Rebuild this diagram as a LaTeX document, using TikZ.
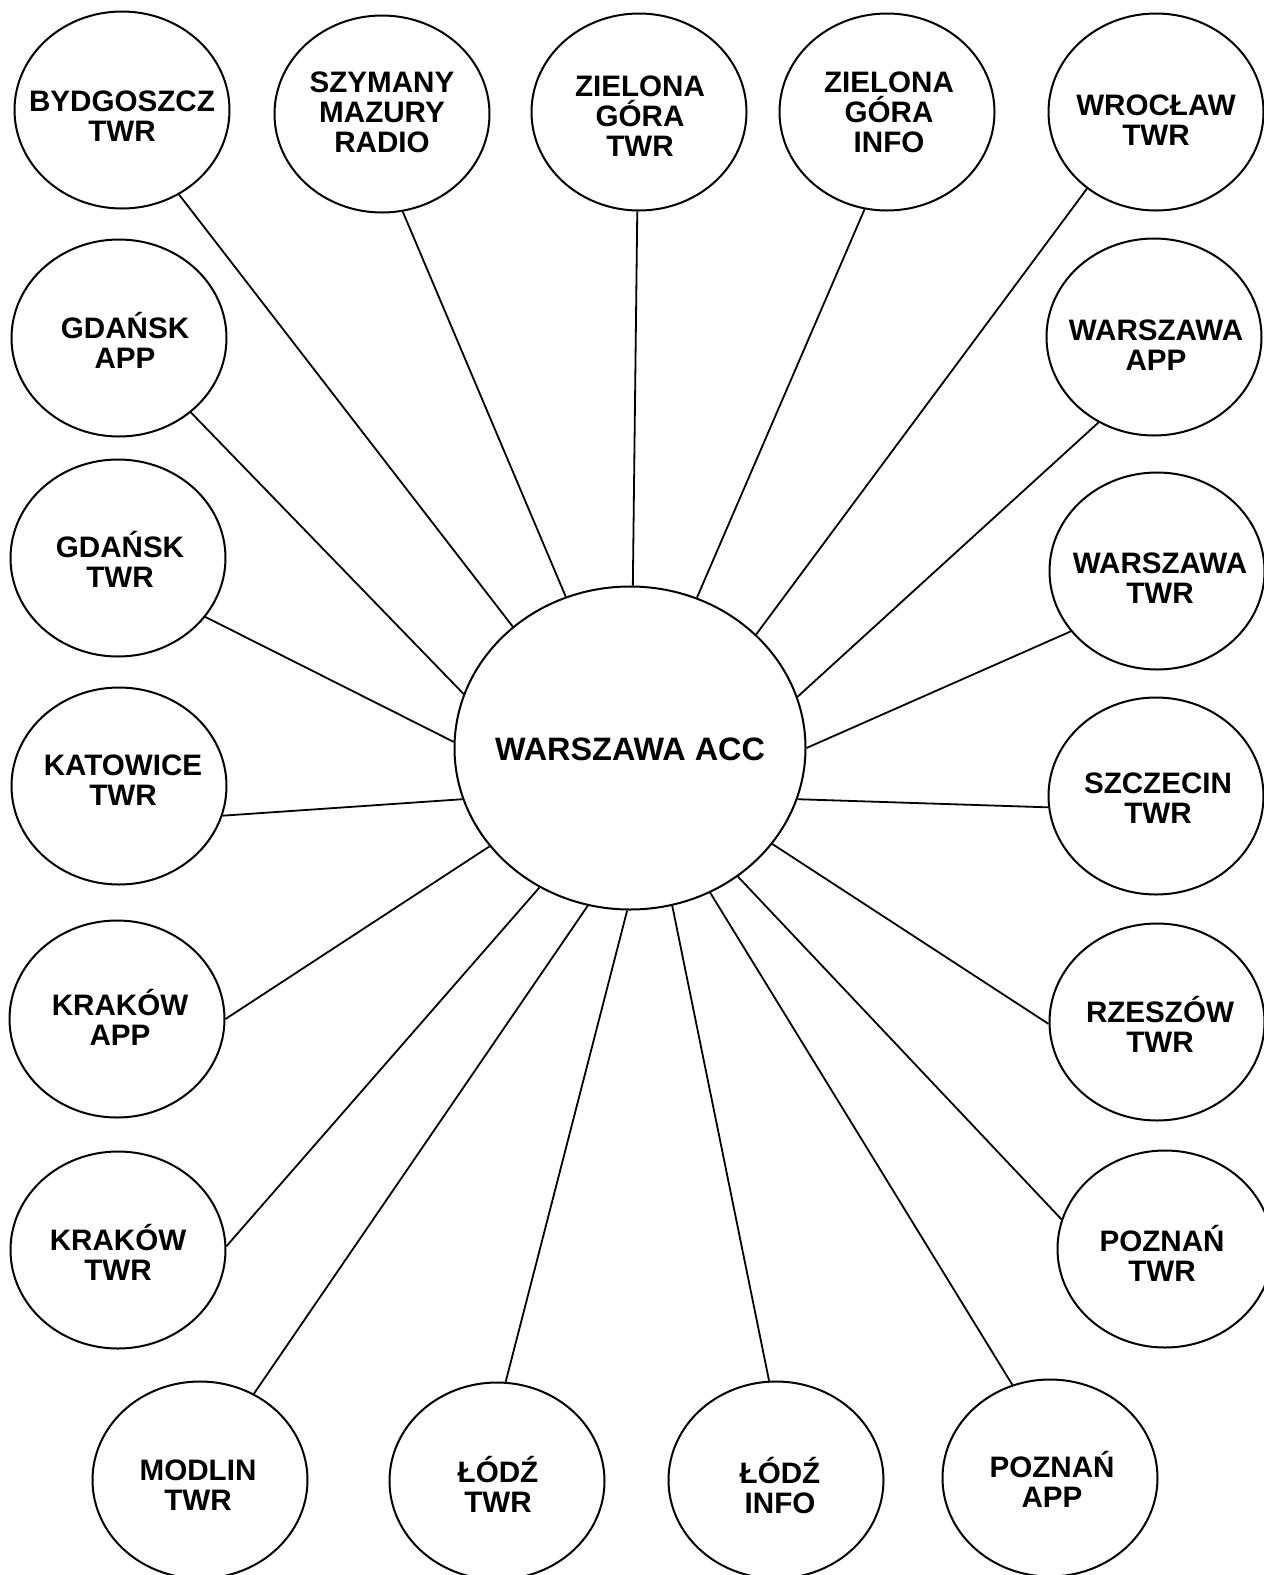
\documentclass[tikz,border=0pt]{standalone}
\usepackage{fontspec}
\setmainfont{Liberation Sans}
\usetikzlibrary{shapes.geometric}

\begin{document}
\begin{tikzpicture}[x=0.5pt, y=-0.5pt,
		stn/.style={draw, ellipse, line width=1pt, inner sep=0pt, minimum width=107.5pt, minimum height=98.5pt},
		hub/.style={draw, ellipse, line width=1pt, inner sep=0pt, minimum width=175.5pt, minimum height=161.5pt},
		lbl/.style={align=center, inner sep=0pt, font=\fontsize{14.8}{15}\selectfont\bfseries},
		hublbl/.style={inner sep=0pt, font=\fontsize{16.2}{16}\selectfont\bfseries},
		link/.style={line width=0.9pt}]
		\useasboundingbox (0,0) rectangle (1264,1575);
		\clip (0,0) rectangle (1264,1575);

		% centre
		\node[hub] (acc) at (630,748) {};
		\node[hublbl] (acc-t) at (630,749) {WARSZAWA ACC};

		% top row
		\node[stn] (bydg) at (122,110) {};
		\node[lbl] (bydg-t) at (122,116) {BYDGOSZCZ\\TWR};
		\node[stn] (szym) at (382,114) {};
		\node[lbl] (szym-t) at (382,112) {SZYMANY\\MAZURY\\RADIO};
		\node[stn] (zgtwr) at (639,112) {};
		\node[lbl] (zgtwr-t) at (640,116) {ZIELONA\\GÓRA\\TWR};
		\node[stn] (zginfo) at (887,112) {};
		\node[lbl] (zginfo-t) at (889,112) {ZIELONA\\GÓRA\\INFO};
		\node[stn] (wroc) at (1156,112) {};
		\node[lbl] (wroc-t) at (1156,120) {WROCŁAW\\TWR};

		% right column
		\node[stn] (wawapp) at (1154,337) {};
		\node[lbl] (wawapp-t) at (1156,345) {WARSZAWA\\APP};
		\node[stn] (wawtwr) at (1157,571) {};
		\node[lbl] (wawtwr-t) at (1160,578) {WARSZAWA\\TWR};
		\node[stn] (szcz) at (1156,796) {};
		\node[lbl] (szcz-t) at (1158,798) {SZCZECIN\\TWR};
		\node[stn] (rzesz) at (1157,1022) {};
		\node[lbl] (rzesz-t) at (1160,1024) {RZESZÓW\\TWR};
		\node[stn] (poztwr) at (1165,1249) {};
		\node[lbl] (poztwr-t) at (1162,1253) {POZNAŃ\\TWR};

		% left column
		\node[stn] (gdapp) at (119,338) {};
		\node[lbl] (gdapp-t) at (125,340) {GDAŃSK\\APP};
		\node[stn] (gdtwr) at (118,558) {};
		\node[lbl] (gdtwr-t) at (120,559) {GDAŃSK\\TWR};
		\node[stn] (katow) at (119,786) {};
		\node[lbl] (katow-t) at (123,780) {KATOWICE\\TWR};
		\node[stn] (krapp) at (117,1019) {};
		\node[lbl] (krapp-t) at (120,1017) {KRAKÓW\\APP};
		\node[stn] (kratwr) at (118,1250) {};
		\node[lbl] (kratwr-t) at (118,1252) {KRAKÓW\\TWR};

		% bottom row
		\node[stn] (modlin) at (200,1480) {};
		\node[lbl] (modlin-t) at (198,1485) {MODLIN\\TWR};
		\node[stn] (lodztwr) at (497,1481) {};
		\node[lbl] (lodztwr-t) at (498,1484) {ŁÓDŹ\\TWR};
		\node[stn] (lodzinfo) at (776,1480) {};
		\node[lbl] (lodzinfo-t) at (780,1486) {ŁÓDŹ\\INFO};
		\node[stn] (pozapp) at (1050,1478) {};
		\node[lbl] (pozapp-t) at (1052,1479) {POZNAŃ\\APP};

		% links
		\draw[link] (acc.134.5) -- (bydg.-56);
		\draw[link] (acc.113) -- (szym.-78.5);
		\draw[link] (acc.89) -- (zgtwr.-91);
		\draw[link] (acc.66.6) -- (zginfo.-103.5);
		\draw[link] (acc.42.4) -- (wroc.-132);
		\draw[link] (acc.17.5) -- (wawapp.-123);
		\draw[link] (acc.0) -- (wawtwr.-145.5);
		\draw[link] (acc.-17.8) -- (szcz.186.4);
		\draw[link] (acc.-34.2) -- (rzesz.181.6);
		\draw[link] (acc.-50.5) -- (poztwr.164.8);
		\draw[link] (acc.-61.6) -- (pozapp.112);
		\draw[link] (acc.-75) -- (lodzinfo.94.3);
		\draw[link] (acc.-91.8) -- (lodztwr.85);
		\draw[link] (acc.-105.8) -- (modlin.58);
		\draw[link] (acc.-123.4) -- (kratwr.2);
		\draw[link] (acc.-145.9) -- (krapp.0.5);
		\draw[link] (acc.-163.7) -- (katow.-16.6);
		\draw[link] (acc.178.7) -- (gdtwr.-34.3);
		\draw[link] (acc.162.9) -- (gdapp.-46.5);
\end{tikzpicture}
\end{document}
